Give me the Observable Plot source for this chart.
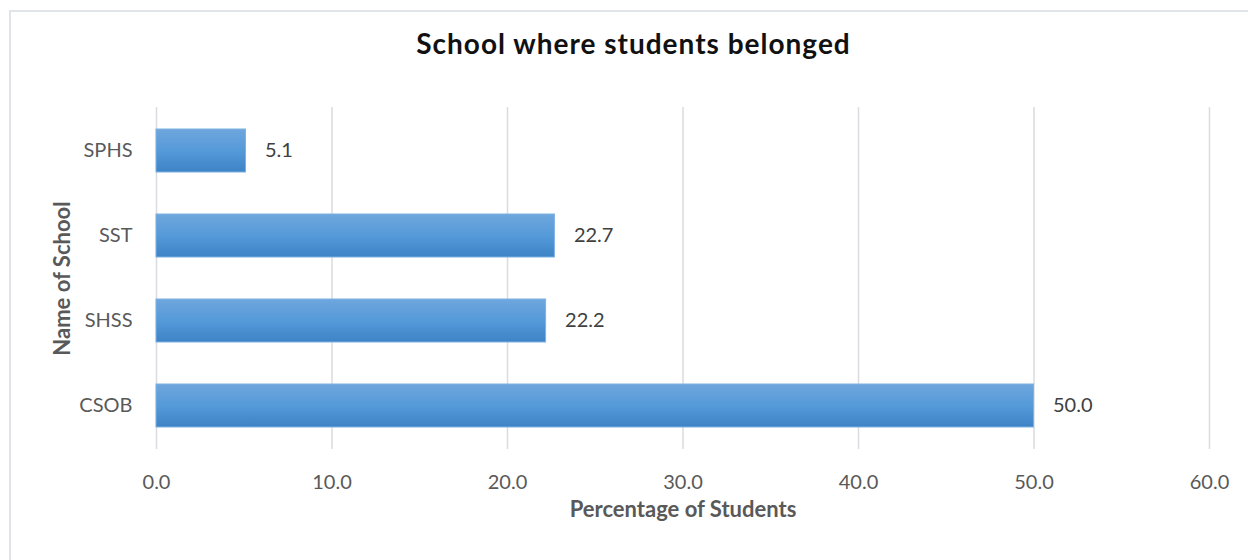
<!DOCTYPE html>
<html>
<head>
<meta charset="utf-8">
<script src="https://cdn.jsdelivr.net/npm/d3@7"></script>
<script src="https://cdn.jsdelivr.net/npm/@observablehq/plot@0.6"></script>
<style>
  html, body { margin: 0; padding: 0; background: #fff; overflow: hidden; }
  #wrap { position: relative; width: 1248px; height: 560px; }
  #frame { position: absolute; left: 9px; top: 10px; width: 1400px; height: 700px;
           border-left: 2px solid #e1e5ea; border-top: 2px solid #e1e5ea; pointer-events: none; }
  #title { position: absolute; left: 0; top: 0; width: 1267px; height: 80px; text-align: center;
           font-family: Lato, sans-serif; font-weight: bold; font-size: 28px; letter-spacing: 1px; color: #111;
           line-height: 86px; }
  #chart { position: absolute; left: 0; top: 80px; }
</style>
</head>
<body>
<div id="wrap">
  <div id="title">School where students belonged</div>
  <div id="chart"></div>
  <div id="frame"></div>
</div>
<script>
const schools = ["SPHS", "SST", "SHSS", "CSOB"];
const percentages = [5.1, 22.7, 22.2, 50.0];
const xTicks = [0, 10, 20, 30, 40, 50, 60];
const xLabel = "Percentage of Students";
const yLabel = "Name of School";

const data = schools.map((s, i) => ({school: s, value: percentages[i]}));

const chart = Plot.plot({
  width: 1248,
  height: 480,
  marginLeft: 156,
  marginRight: 39,
  marginTop: 27,
  marginBottom: 111,
  style: {fontFamily: "Lato, sans-serif", fontSize: "20px", color: "#595959", background: "transparent"},
  x: {domain: [0, 60], ticks: xTicks, tickFormat: d3.format(".1f"), label: null},
  y: {domain: schools, paddingInner: 0.5, paddingOuter: 0.25, label: null},
  marks: [
    Plot.ruleX(xTicks, {stroke: "#d9dce1", strokeWidth: 1.5}),
    Plot.barX(data, {x: "value", y: "school", fill: "url(#barGrad)", stroke: "#7fb1e2", strokeWidth: 1}),
    Plot.text(data, {x: "value", y: "school", text: d => d.value.toFixed(1), dx: 19, textAnchor: "start", fill: "#404040", fontSize: 20}),
    Plot.axisX({ticks: xTicks, tickSize: 0, tickPadding: 25, tickFormat: d3.format(".1f"), label: null}),
    Plot.axisY({tickSize: 0, tickPadding: 24, label: null}),
    Plot.text([xLabel], {frameAnchor: "bottom", dy: 67, lineAnchor: "bottom", textAnchor: "middle", fontWeight: "bold", fill: "#595959", fontSize: 22}),
    Plot.text([yLabel], {frameAnchor: "left", dx: -94, rotate: -90, textAnchor: "middle", fontWeight: "bold", fill: "#595959", fontSize: 22})
  ]
});

const defs = d3.select(chart).insert("defs", ":first-child");
const grad = defs.append("linearGradient").attr("id", "barGrad")
  .attr("x1", 0).attr("y1", 0).attr("x2", 0).attr("y2", 1);
grad.append("stop").attr("offset", "0%").attr("stop-color", "#6fa6dd");
grad.append("stop").attr("offset", "50%").attr("stop-color", "#559ad9");
grad.append("stop").attr("offset", "100%").attr("stop-color", "#3d83c6");

document.getElementById("chart").appendChild(chart);
</script>
</body>
</html>
